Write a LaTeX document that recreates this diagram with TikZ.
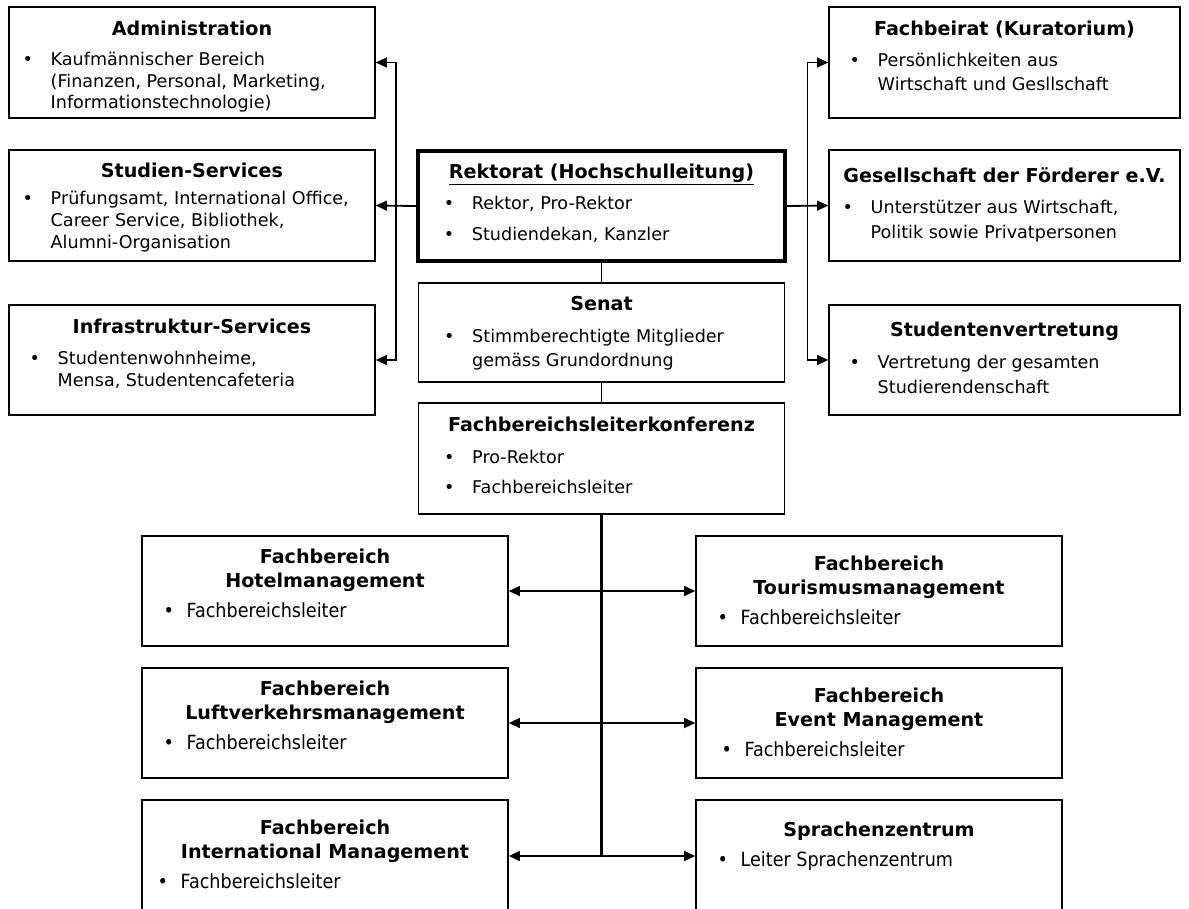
\documentclass[tikz,border=0pt]{standalone}
\usepackage{fontspec}
\setmainfont{DejaVu Sans}
\newfontfamily\condfont{DejaVu Sans Condensed}
\usetikzlibrary{positioning,calc,arrows.meta}

\newcommand{\titlefont}{\fontsize{13.6}{17}\selectfont\bfseries}
\newcommand{\itemfont}{\fontsize{12.5}{15.5}\selectfont}
\newcommand{\smallfont}{\condfont\fontsize{13.9}{15}\selectfont}
\newcommand{\orglist}[2][20pt]{\begin{tabular}[t]{@{}p{#1}@{}l@{}}#2\end{tabular}}

\begin{document}
\begin{tikzpicture}[x=0.025cm, y=-0.025cm,
    orgbox/.style={draw, line width=0.9pt, inner sep=0pt, minimum width=9.15cm},
    boxtitle/.style={font=\titlefont, align=center, anchor=base, inner sep=0pt},
    boxitems/.style={font=\itemfont, anchor=base west, inner sep=0pt},
    unititems/.style={font=\smallfont, anchor=base west, inner sep=0pt},
    link/.style={line width=1pt},
    arrow/.style={line width=1.3pt, -{Triangle[length=8pt,width=7pt]}},
    twoway/.style={line width=1.3pt, {Triangle[length=8pt,width=7pt]}-{Triangle[length=8pt,width=7pt]}}]
    \useasboundingbox (0,0) rectangle (1189,908);

    % Left column: services
    \node[orgbox, minimum height=2.775cm] (admin) at (192,62.5) {};
    \node[boxtitle] at ($(admin.north)+(0,29)$) {Administration};
    \node[boxitems] at ($(admin.north west)+(14,59)$)
        {\orglist{\textbullet & Kaufmännischer Bereich\\
                              & (Finanzen, Personal, Marketing,\\
                              & Informationstechnologie)}};

    \node[orgbox, minimum height=2.775cm] (studien) at (192,205.5) {};
    \node[boxtitle] at ($(studien.north)+(0,28)$) {Studien-Services};
    \node[boxitems] at ($(studien.north west)+(14,55.5)$)
        {\orglist{\textbullet & Prüfungsamt, International Office,\\
                              & Career Service, Bibliothek,\\
                              & Alumni-Organisation}};

    \node[orgbox, minimum height=2.75cm] (infra) at (192,360) {};
    \node[boxtitle] at ($(infra.north)+(0,29)$) {Infrastruktur-Services};
    \node[boxitems] at ($(infra.north west)+(21,60.5)$)
        {\orglist{\textbullet & Studentenwohnheime,\\
                              & Mensa, Studentencafeteria}};

    % Centre column: management
    \node[orgbox, line width=2.8pt, minimum height=2.75cm] (rektorat) at (601.5,206) {};
    \node[boxtitle] at ($(rektorat.north)+(0,29.5)$) {\underline{Rektorat (Hochschulleitung)}};
    \node[boxitems] at ($(rektorat.north west)+(27,60)$)
        {\orglist{\textbullet & Rektor, Pro-Rektor\\[6.6pt]
                  \textbullet & Studiendekan, Kanzler}};

    \node[orgbox, minimum height=2.475cm] (senat) at (601.5,332.5) {};
    \node[boxtitle] at ($(senat.north)+(0,28.5)$) {Senat};
    \node[boxitems] at ($(senat.north west)+(26,60)$)
        {\orglist{\textbullet & Stimmberechtigte Mitglieder\\[1.5pt]
                              & gemäss Grundordnung}};

    \node[orgbox, minimum height=2.775cm] (fblk) at (601.5,458.5) {};
    \node[boxtitle] at ($(fblk.north)+(0,29)$) {Fachbereichsleiterkonferenz};
    \node[boxitems] at ($(fblk.north west)+(26,61.5)$)
        {\orglist{\textbullet & Pro-Rektor\\[5.5pt]
                  \textbullet & Fachbereichsleiter}};

    % Right column: boards
    \node[orgbox, minimum width=8.775cm, minimum height=2.775cm] (beirat) at (1004.5,62.5) {};
    \node[boxtitle] at ($(beirat.north)+(0,29)$) {Fachbeirat (Kuratorium)};
    \node[boxitems] at ($(beirat.north west)+(21,60.5)$)
        {\orglist{\textbullet & Persönlichkeiten aus\\[1pt]
                              & Wirtschaft und Gesllschaft}};

    \node[orgbox, minimum width=8.775cm, minimum height=2.775cm] (foerderer) at (1004.5,205.5) {};
    \node[boxtitle] at ($(foerderer.north)+(0,33)$) {Gesellschaft der Förderer e.V.};
    \node[boxitems] at ($(foerderer.north west)+(14,64.5)$)
        {\orglist{\textbullet & Unterstützer aus Wirtschaft,\\[2pt]
                              & Politik sowie Privatpersonen}};

    \node[orgbox, minimum width=8.775cm, minimum height=2.75cm] (stuv) at (1004.5,360) {};
    \node[boxtitle] at ($(stuv.north)+(0,32.5)$) {Studentenvertretung};
    \node[boxitems] at ($(stuv.north west)+(21,64.5)$)
        {\orglist{\textbullet & Vertretung der gesamten\\[2pt]
                              & Studierendenschaft}};

    % Bottom: departments (base = second title line)
    \node[orgbox, minimum height=2.75cm] (hotel) at (325,591) {};
    \node[boxtitle] at ($(hotel.north)+(0,52)$) {Fachbereich\\Hotelmanagement};
    \node[unititems] at ($(hotel.north west)+(22,82)$)
        {\orglist[16.4pt]{\textbullet & Fachbereichsleiter}};

    \node[orgbox, minimum height=2.75cm] (luft) at (325,723) {};
    \node[boxtitle] at ($(luft.north)+(0,52)$) {Fachbereich\\Luftverkehrsmanagement};
    \node[unititems] at ($(luft.north west)+(22,82)$)
        {\orglist[16.4pt]{\textbullet & Fachbereichsleiter}};

    \node[orgbox, minimum height=2.8cm] (intl) at (325,856) {};
    \node[boxtitle] at ($(intl.north)+(0,59)$) {Fachbereich\\International Management};
    \node[unititems] at ($(intl.north west)+(16,89)$)
        {\orglist[16.4pt]{\textbullet & Fachbereichsleiter}};

    \node[orgbox, minimum height=2.75cm] (tour) at (879,591) {};
    \node[boxtitle] at ($(tour.north)+(0,59)$) {Fachbereich\\Tourismusmanagement};
    \node[unititems] at ($(tour.north west)+(22,89)$)
        {\orglist[16.4pt]{\textbullet & Fachbereichsleiter}};

    \node[orgbox, minimum height=2.75cm] (event) at (879,723) {};
    \node[boxtitle] at ($(event.north)+(0,59)$) {Fachbereich\\Event Management};
    \node[unititems] at ($(event.north west)+(26,89)$)
        {\orglist[16.4pt]{\textbullet & Fachbereichsleiter}};

    \node[orgbox, minimum height=2.8cm] (sprachen) at (879,856) {};
    \node[boxtitle] at ($(sprachen.north)+(0,37.5)$) {Sprachenzentrum};
    \node[unititems] at ($(sprachen.north west)+(22,67)$)
        {\orglist[16.4pt]{\textbullet & Leiter Sprachenzentrum}};

    % Bus coordinates
    \coordinate (lbus) at ($(studien.east)!0.5!(rektorat.west)$);
    \coordinate (rbus) at ($(rektorat.east)!0.5!(foerderer.west)$);

    % Connectors
    \draw[arrow] (rektorat.west) -- (studien.east);
    \draw[arrow] (lbus) |- (admin.east);
    \draw[arrow] (lbus) |- (infra.east);
    \draw[arrow] (rektorat.east) -- (foerderer.west);
    \draw[arrow] (rbus) |- (beirat.west);
    \draw[arrow] (rbus) |- (stuv.west);
    \draw[link] (rektorat.south) -- (senat.north);
    \draw[link] (senat.south) -- (fblk.north);
    \draw[line width=2pt] (fblk.south) -- (fblk.south |- intl.east);
    \draw[twoway] (hotel.east) -- (tour.west);
    \draw[twoway] (luft.east) -- (event.west);
    \draw[twoway] (intl.east) -- (sprachen.west);
\end{tikzpicture}
\end{document}
